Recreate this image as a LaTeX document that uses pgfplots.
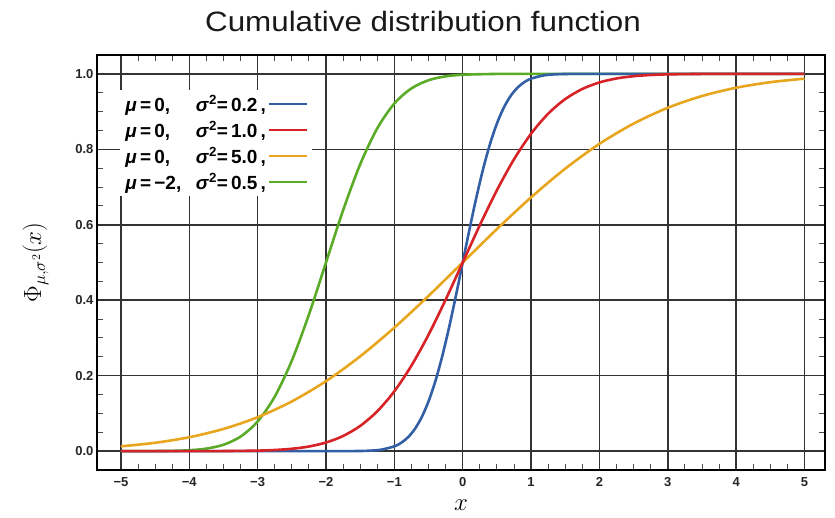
\documentclass[border=0pt]{standalone}
\usepackage{fontspec}
\setmainfont{Liberation Sans}
\usepackage{pgfplots}
\pgfplotsset{compat=1.18}
\definecolor{cblue}{RGB}{50,95,165}
\definecolor{cred}{RGB}{215,35,40}
\definecolor{corange}{RGB}{232,165,30}
\definecolor{cgreen}{RGB}{90,172,40}
\begin{document}
\begin{tikzpicture}
\begin{axis}[
  at={(97pt,48pt)}, anchor=south west,
  scale only axis, width=728pt, height=415pt,
  xmin=-5.35, xmax=5.3, ymin=-0.05, ymax=1.05,
  xtick={-5,-4,-3,-2,-1,0,1,2,3,4,5},
  xticklabels={−5,−4,−3,−2,−1,0,1,2,3,4,5},
  ytick={0,0.2,0.4,0.6,0.8,1.0},
  yticklabels={0.0,0.2,0.4,0.6,0.8,1.0},
  minor x tick num=3, minor y tick num=3,
  grid=major,
  major grid style={black!80, line width=1.5pt},
  extra x ticks={0}, extra x tick labels={},
  extra x tick style={grid style={black, line width=1.8pt}},
  axis line style={line width=1.8pt},
  tick align=inside,
  major tick length=0pt, minor tick length=6pt,
  minor tick style={black!70, line width=0.9pt},
  ticklabel style={font=\bfseries\fontsize{13}{15}\selectfont, text=black!85},
  xticklabel style={yshift=-4pt},
  xlabel={\fontsize{24}{26}\selectfont $x$},
  xlabel style={yshift=-6pt},
  ylabel={\fontsize{26}{28}\selectfont $\Phi_{\mu,\sigma^2}(x)$},
  ylabel style={yshift=20pt},
  legend cell align=left, legend plot pos=right,
  legend style={at={(rel axis cs:0.032,0.915)}, anchor=north west, draw=none, fill=white,
    font=\bfseries\fontsize{19}{21}\selectfont, row sep=5pt, inner sep=3pt,
    /tikz/every even column/.append style={column sep=7pt}},
  legend image code/.code={\draw[#1] (0pt,0pt) -- (38pt,0pt);},
]
\addlegendimage{cblue, line width=2.6pt}
\addlegendentry{\makebox[3.7em][l]{\textit{μ}\,=\,0,}\textit{σ}\textsuperscript{2}=\,0.2\,,}
\addlegendimage{cred, line width=2.6pt}
\addlegendentry{\makebox[3.7em][l]{\textit{μ}\,=\,0,}\textit{σ}\textsuperscript{2}=\,1.0\,,}
\addlegendimage{corange, line width=2.6pt}
\addlegendentry{\makebox[3.7em][l]{\textit{μ}\,=\,0,}\textit{σ}\textsuperscript{2}=\,5.0\,,}
\addlegendimage{cgreen, line width=2.6pt}
\addlegendentry{\makebox[3.7em][l]{\textit{μ}\,=\,−2,}\textit{σ}\textsuperscript{2}=\,0.5\,,}

% green mu=-2, sigma^2=0.5
\addplot[cgreen, line width=2.6pt, smooth, forget plot] coordinates {
(-5,0.00001) (-4.5,0.0002) (-4.25,0.00073) (-4,0.00234) (-3.75,0.00666) (-3.5,0.0169)
(-3.25,0.0385) (-3,0.0786) (-2.75,0.1444) (-2.5,0.2398) (-2.25,0.3618) (-2,0.5)
(-1.75,0.6382) (-1.5,0.7602) (-1.25,0.8556) (-1,0.9214) (-0.75,0.9615) (-0.5,0.9831)
(-0.25,0.99334) (0,0.99766) (0.5,0.9998) (1,1.0) (2,1.0) (3,1.0) (4,1.0) (5,1.0)
};
% blue mu=0, sigma^2=0.2
\addplot[cblue, line width=2.6pt, smooth, forget plot] coordinates {
(-5,0) (-4,0) (-3,0) (-2,0) (-1.6,0.00017) (-1.4,0.00087) (-1.2,0.00364) (-1.0,0.0127)
(-0.9,0.0221) (-0.8,0.0368) (-0.7,0.0588) (-0.6,0.0899) (-0.5,0.1318) (-0.4,0.1855)
(-0.3,0.2512) (-0.2,0.3274) (-0.1,0.4115) (0,0.5) (0.1,0.5885) (0.2,0.6726) (0.3,0.7488)
(0.4,0.8145) (0.5,0.8682) (0.6,0.9101) (0.7,0.9412) (0.8,0.9632) (0.9,0.9779) (1.0,0.9873)
(1.2,0.99636) (1.4,0.99913) (1.6,0.99983) (2,1.0) (3,1.0) (4,1.0) (5,1.0)
};
% orange mu=0, sigma^2=5
\addplot[corange, line width=2.6pt, smooth, forget plot] coordinates {
(-5,0.0127) (-4.5,0.0221) (-4,0.0368) (-3.5,0.0588) (-3,0.0899) (-2.5,0.1318) (-2,0.1855)
(-1.5,0.2512) (-1,0.3274) (-0.5,0.4115) (0,0.5) (0.5,0.5885) (1,0.6726) (1.5,0.7488)
(2,0.8145) (2.5,0.8682) (3,0.9101) (3.5,0.9412) (4,0.9632) (4.5,0.9779) (5,0.9873)
};
% red mu=0, sigma^2=1
\addplot[cred, line width=2.6pt, smooth, forget plot] coordinates {
(-5,0) (-4.5,0.000003) (-4,0.00003) (-3.5,0.00023) (-3,0.00135) (-2.75,0.0030) (-2.5,0.0062)
(-2.25,0.0122) (-2,0.0228) (-1.75,0.0401) (-1.5,0.0668) (-1.25,0.1056) (-1,0.1587)
(-0.75,0.2266) (-0.5,0.3085) (-0.25,0.4013) (0,0.5) (0.25,0.5987) (0.5,0.6915) (0.75,0.7734)
(1,0.8413) (1.25,0.8944) (1.5,0.9332) (1.75,0.9599) (2,0.9772) (2.25,0.9878) (2.5,0.9938)
(2.75,0.9970) (3,0.99865) (3.5,0.99977) (4,0.99997) (4.5,1.0) (5,1.0)
};
\end{axis}
\node[font=\fontsize{28}{32}\selectfont, text=black!90] at (423pt,496pt) {\scalebox{1.12}[1]{Cumulative distribution function}};
\pgfresetboundingbox
\path[use as bounding box] (0pt,0pt) rectangle (835pt,518pt);
\end{tikzpicture}
\end{document}
